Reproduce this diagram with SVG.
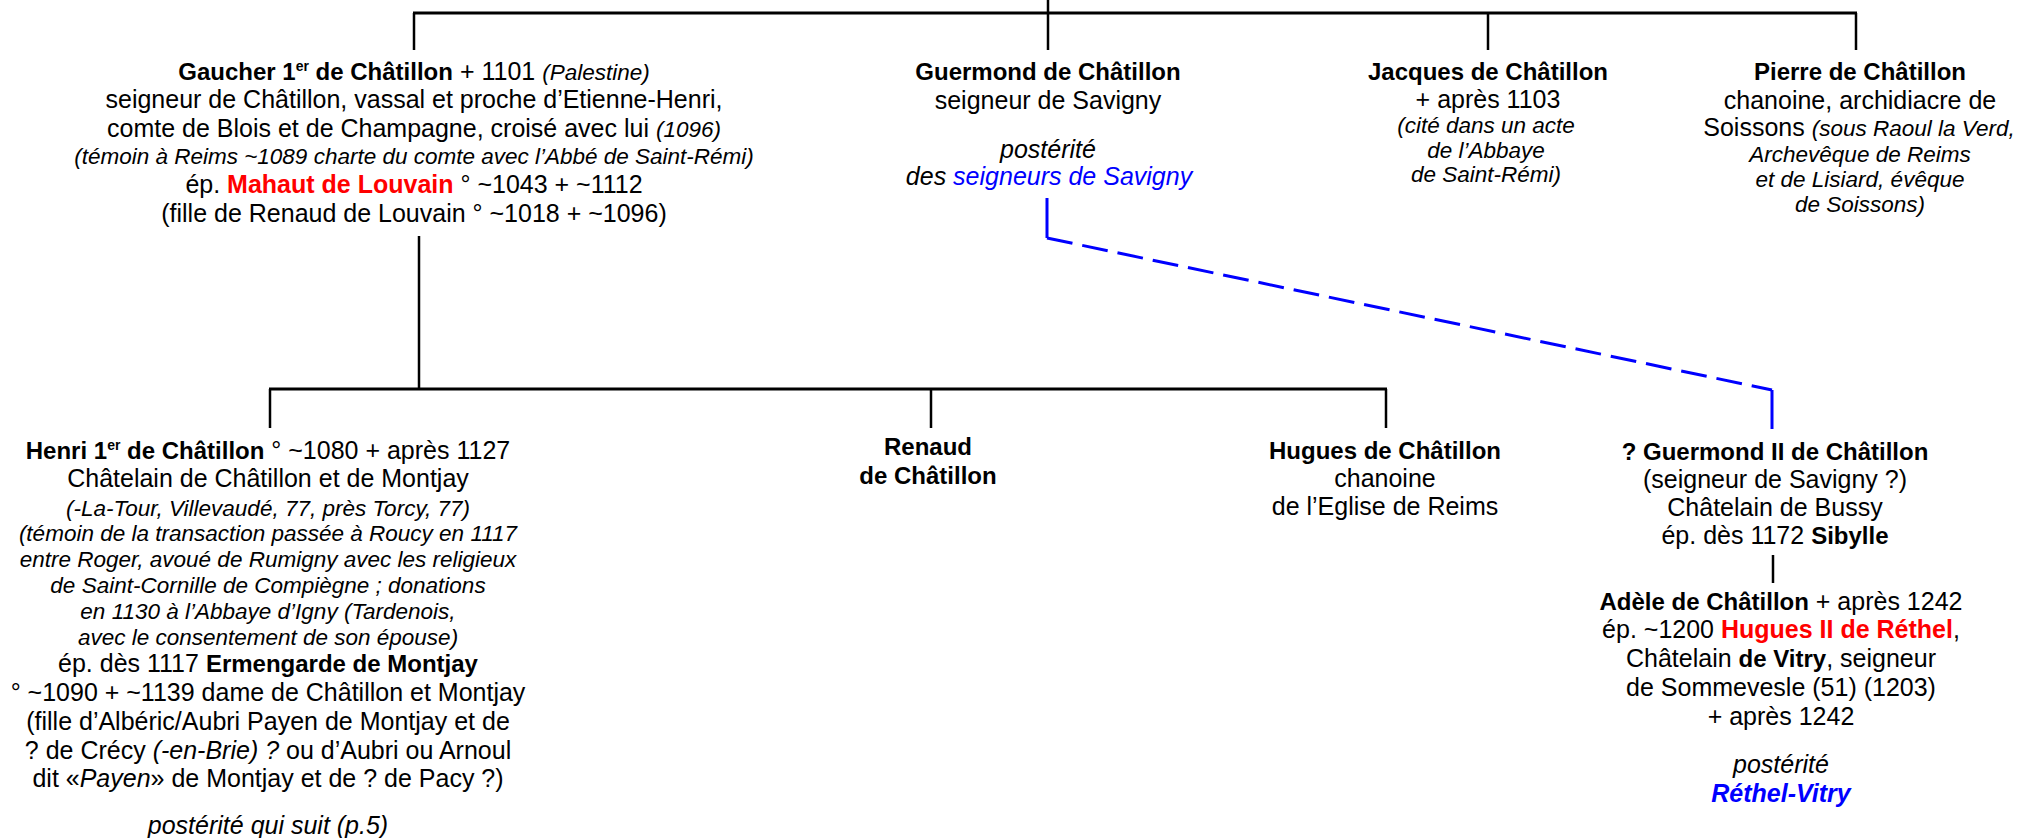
<svg xmlns="http://www.w3.org/2000/svg" width="2021" height="838" viewBox="0 0 2021 838">
<style>
text{font-family:"Liberation Sans",Arial,sans-serif;font-size:25px;fill:#000;text-anchor:middle}
.b{font-weight:bold;font-size:24px}
.i{font-style:italic}
.n{font-style:italic;font-size:22.5px}
.red{fill:#FF0000;font-weight:bold}
.blue{fill:#0000FF}
.sup{font-size:14px}
.k{stroke:#000;stroke-width:2.5;fill:none}
.h{stroke:#000;stroke-width:3;fill:none}
.bl{stroke:#0000FF;stroke-width:3;fill:none}
</style>
<rect width="2021" height="838" fill="#fff"/>
<g id="connectors">
<line class="k" x1="1048" y1="0" x2="1048" y2="13"/>
<line class="h" x1="413" y1="13" x2="1857" y2="13"/>
<line class="k" x1="414" y1="13" x2="414" y2="50"/>
<line class="k" x1="1048" y1="13" x2="1048" y2="50"/>
<line class="k" x1="1488" y1="13" x2="1488" y2="50"/>
<line class="k" x1="1856" y1="13" x2="1856" y2="50"/>
<line class="k" x1="419" y1="236" x2="419" y2="389"/>
<line class="h" x1="269" y1="389" x2="1387" y2="389"/>
<line class="k" x1="270" y1="389" x2="270" y2="428"/>
<line class="k" x1="931" y1="389" x2="931" y2="428"/>
<line class="k" x1="1386" y1="389" x2="1386" y2="428"/>
<line class="bl" x1="1047" y1="198" x2="1047" y2="238"/>
<line class="bl" x1="1047" y1="238" x2="1772" y2="390" stroke-dasharray="26 10"/>
<line class="bl" x1="1772" y1="390" x2="1772" y2="429"/>
<line class="k" x1="1773" y1="555" x2="1773" y2="583"/>
</g>
<g id="gaucher">
<text x="414" y="80"><tspan class="b">Gaucher 1<tspan class="sup" dy="-9">er</tspan><tspan dy="9"> de Châtillon</tspan></tspan> + 1101 <tspan class="n">(Palestine)</tspan></text>
<text x="414" y="108">seigneur de Châtillon, vassal et proche d’Etienne-Henri,</text>
<text x="414" y="137">comte de Blois et de Champagne, croisé avec lui <tspan class="n">(1096)</tspan></text>
<text x="414" y="164" class="n">(témoin à Reims ~1089 charte du comte avec l’Abbé de Saint-Rémi)</text>
<text x="414" y="193">ép. <tspan class="red">Mahaut de Louvain</tspan> ° ~1043 + ~1112</text>
<text x="414" y="222">(fille de Renaud de Louvain ° ~1018 + ~1096)</text>
</g>
<g id="guermond">
<text x="1048" y="80" class="b">Guermond de Châtillon</text>
<text x="1048" y="109">seigneur de Savigny</text>
<text x="1048" y="158" class="i">postérité</text>
<text x="1049" y="185" class="i">des <tspan class="blue">seigneurs de Savigny</tspan></text>
</g>
<g id="jacques">
<text x="1488" y="80" class="b">Jacques de Châtillon</text>
<text x="1488" y="108">+ après 1103</text>
<text x="1486" y="133" class="n" font-size="23">(cité dans un acte</text>
<text x="1486" y="158" class="n" font-size="23">de l’Abbaye</text>
<text x="1486" y="182" class="n" font-size="23">de Saint-Rémi)</text>
</g>
<g id="pierre">
<text x="1860" y="80" class="b">Pierre de Châtillon</text>
<text x="1860" y="109">chanoine, archidiacre de</text>
<text x="1859" y="136">Soissons <tspan class="n">(sous Raoul la Verd,</tspan></text>
<text x="1860" y="162" class="n">Archevêque de Reims</text>
<text x="1860" y="187" class="n">et de Lisiard, évêque</text>
<text x="1860" y="212" class="n">de Soissons)</text>
</g>
<g id="henri">
<text x="268" y="459"><tspan class="b">Henri 1<tspan class="sup" dy="-9">er</tspan><tspan dy="9"> de Châtillon</tspan></tspan> ° ~1080 + après 1127</text>
<text x="268" y="487">Châtelain de Châtillon et de Montjay</text>
<text x="268" y="516" class="n">(-La-Tour, Villevaudé, 77, près Torcy, 77)</text>
<text x="268" y="541" class="n">(témoin de la transaction passée à Roucy en 1117</text>
<text x="268" y="567" class="n">entre Roger, avoué de Rumigny avec les religieux</text>
<text x="268" y="593" class="n">de Saint-Cornille de Compiègne ; donations</text>
<text x="268" y="619" class="n">en 1130 à l’Abbaye d’Igny (Tardenois,</text>
<text x="268" y="645" class="n">avec le consentement de son épouse)</text>
<text x="268" y="672">ép. dès 1117  <tspan class="b">Ermengarde de Montjay</tspan></text>
<text x="268" y="701">° ~1090 + ~1139 dame de Châtillon et Montjay</text>
<text x="268" y="730">(fille d’Albéric/Aubri Payen de Montjay et de</text>
<text x="268" y="759">? de Crécy <tspan class="i">(-en-Brie) ?</tspan> ou d’Aubri ou Arnoul</text>
<text x="268" y="787">dit «<tspan class="i">Payen</tspan>» de Montjay et de ? de Pacy ?)</text>
<text x="268" y="834" class="i">postérité qui suit (p.5)</text>
</g>
<g id="renaud">
<text x="928" y="455" class="b">Renaud</text>
<text x="928" y="484" class="b">de Châtillon</text>
</g>
<g id="hugues">
<text x="1385" y="459" class="b">Hugues de Châtillon</text>
<text x="1385" y="487">chanoine</text>
<text x="1385" y="515">de l’Eglise de Reims</text>
</g>
<g id="guermond2">
<text x="1775" y="460" class="b">? Guermond II de Châtillon</text>
<text x="1775" y="488">(seigneur de Savigny ?)</text>
<text x="1775" y="516">Châtelain de Bussy</text>
<text x="1775" y="544">ép. dès 1172 <tspan class="b">Sibylle</tspan></text>
</g>
<g id="adele">
<text x="1781" y="610"><tspan class="b">Adèle de Châtillon</tspan> + après 1242</text>
<text x="1781" y="638">ép. ~1200 <tspan class="red">Hugues II de Réthel</tspan>,</text>
<text x="1781" y="667">Châtelain <tspan class="b">de Vitry</tspan>, seigneur</text>
<text x="1781" y="696">de Sommevesle (51) (1203)</text>
<text x="1781" y="725">+ après 1242</text>
<text x="1781" y="773" class="i">postérité</text>
<text x="1781" y="802" class="i blue" font-weight="bold">Réthel-Vitry</text>
</g>
</svg>
